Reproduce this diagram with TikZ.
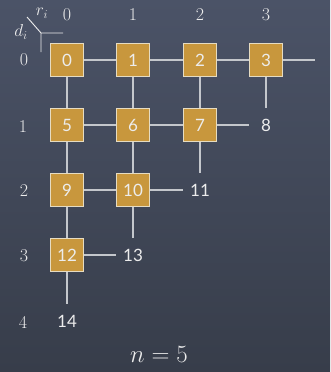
\documentclass[tikz,border=0pt]{standalone}
\usepackage{fontspec}
\newfontfamily\boxfont{Lato}
\definecolor{bgtop}{HTML}{4B5367}
\definecolor{bgbot}{HTML}{373D4A}
\definecolor{gold}{HTML}{C8973D}
\definecolor{rim}{HTML}{E6DCC2}
\definecolor{wire}{HTML}{C4C7CC}
\definecolor{chalk}{HTML}{ECECEC}
\begin{document}
\begin{tikzpicture}[x=1pt,y=-1pt,
  cell/.style={draw=rim,fill=gold,line width=1.3pt,minimum size=33pt,inner sep=0pt,
    text=chalk,font=\boxfont\fontsize{17}{17}\selectfont},
  ghost/.style={minimum size=33pt,inner sep=0pt,text=chalk,font=\boxfont\fontsize{17}{17}\selectfont},
  idx/.style={text=chalk,inner sep=0pt,font=\fontsize{18}{18}\selectfont},
  wireline/.style={draw=wire,line width=1.3pt}]
\shade[top color=bgtop,bottom color=bgbot] (0,0) rectangle (330,372);
\useasboundingbox (0,0) rectangle (330,372);
% column indices
\node[idx] (c0) at (67,15) {0};
\node[idx] (c1) at (133,15) {1};
\node[idx] (c2) at (200,15) {2};
\node[idx] (c3) at (266,15) {3};
% row indices
\node[idx] (r0) at (24,60) {0};
\node[idx] (r1) at (23,127) {1};
\node[idx] (r2) at (24,191) {2};
\node[idx] (r3) at (24,256) {3};
\node[idx] (r4) at (23,322) {4};
% corner
\coordinate (k) at (41,33);
\coordinate (kd) at (27,17);
\coordinate (kr) at (63,33);
\coordinate (kb) at (41,52);
\draw[draw=chalk,line width=0.9pt] (kd) -- (k) (kr) -- (k) -- (kb);
\node[idx] (ri) at (42,13) {$r_i$};
\node[idx] (di) at (21,32) {$d_i$};
% cells
\node[cell] (n0) at (67,60) {0};
\node[cell] (n1) at (133,60) {1};
\node[cell] (n2) at (200,60) {2};
\node[cell] (n3) at (266,60) {3};
\node[cell] (n5) at (67,125) {5};
\node[cell] (n6) at (133,125) {6};
\node[cell] (n7) at (200,125) {7};
\node[cell] (n9) at (67,190) {9};
\node[cell] (n10) at (133,190) {10};
\node[cell] (n12) at (67,255) {12};
% free labels
\node[ghost] (s4) at (332,60) {};
\node[ghost] (n8) at (266,125) {8};
\node[ghost] (n11) at (200,190) {11};
\node[ghost] (n13) at (133,255) {13};
\node[ghost] (n14) at (67,321) {14};
% wires
\draw[wireline] (n0) -- (n1);
\draw[wireline] (n1) -- (n2);
\draw[wireline] (n2) -- (n3);
\draw[wireline] (n3) -- (s4);
\draw[wireline] (n0) -- (n5);
\draw[wireline] (n1) -- (n6);
\draw[wireline] (n2) -- (n7);
\draw[wireline] (n3) -- (n8);
\draw[wireline] (n5) -- (n6);
\draw[wireline] (n6) -- (n7);
\draw[wireline] (n7) -- (n8);
\draw[wireline] (n5) -- (n9);
\draw[wireline] (n6) -- (n10);
\draw[wireline] (n7) -- (n11);
\draw[wireline] (n9) -- (n10);
\draw[wireline] (n10) -- (n11);
\draw[wireline] (n9) -- (n12);
\draw[wireline] (n10) -- (n13);
\draw[wireline] (n12) -- (n13);
\draw[wireline] (n12) -- (n14);
% caption
\node[text=chalk,font=\fontsize{29}{29}\selectfont] (cap) at (159,354) {$n=5$};
\end{tikzpicture}
\end{document}
